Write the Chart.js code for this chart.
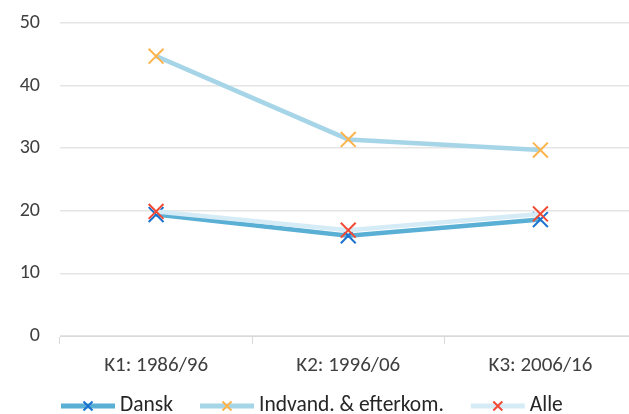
<!DOCTYPE html>
<html>
<head>
<meta charset="utf-8">
<script src="https://cdn.jsdelivr.net/npm/chart.js@4/dist/chart.umd.min.js"></script>
<style>
html,body{margin:0;padding:0;background:#fff;overflow:hidden;}
#wrap{position:relative;width:649px;height:414px;}
</style>
</head>
<body>
<div id="wrap"><canvas id="c"></canvas></div>
<script>
const categories = ["K1: 1986/96", "K2: 1996/06", "K3: 2006/16"];
const dansk = [19.4, 16.0, 18.6];
const indvand = [44.7, 31.4, 29.7];
const alle = [19.9, 16.9, 19.5];
const seriesNames = ["Dansk", "Indvand. & efterkom.", "Alle"];
const yTicks = [0, 10, 20, 30, 40, 50];

const FONT = "Carlito, Lato, 'Liberation Sans', sans-serif";

const customLegend = {
  id: 'customLegend',
  afterDraw(chart) {
    const ctx = chart.ctx;
    let x = 61;
    const y = 406;
    const bw = 54;
    ctx.save();
    ctx.font = "21.5px " + FONT;
    ctx.textBaseline = 'middle';
    chart.data.datasets.forEach((ds) => {
      ctx.fillStyle = ds.borderColor;
      ctx.fillRect(x, y - 2.5, bw, 5);
      const cx = x + bw / 2, r = 4.5;
      ctx.strokeStyle = ds.pointBorderColor;
      ctx.lineWidth = 2;
      ctx.beginPath();
      ctx.moveTo(cx - r, y - r); ctx.lineTo(cx + r, y + r);
      ctx.moveTo(cx - r, y + r); ctx.lineTo(cx + r, y - r);
      ctx.stroke();
      ctx.fillStyle = '#262626';
      const tx = x + bw + 5;
      ctx.fillText(ds.label, tx, y);
      x = tx + ctx.measureText(ds.label).width + 27;
    });
    ctx.restore();
  }
};

new Chart(document.getElementById('c'), {
  type: 'line',
  data: {
    labels: categories,
    datasets: [
      {label: seriesNames[0], data: dansk, borderColor: '#5AAFD5', backgroundColor: '#5AAFD5', borderWidth: 4.5,
       pointStyle: 'crossRot', pointRadius: 10.5, pointBorderColor: '#1A72CF', pointBorderWidth: 2, pointHoverRadius: 10.5, order: 1},
      {label: seriesNames[1], data: indvand, borderColor: '#A6D5E8', backgroundColor: '#A6D5E8', borderWidth: 4.5,
       pointStyle: 'crossRot', pointRadius: 10.5, pointBorderColor: '#FDB44B', pointBorderWidth: 2, pointHoverRadius: 10.5, order: 2},
      {label: seriesNames[2], data: alle, borderColor: '#D5EBF5', backgroundColor: '#D5EBF5', borderWidth: 4.5,
       pointStyle: 'crossRot', pointRadius: 10.5, pointBorderColor: '#F24A35', pointBorderWidth: 2, pointHoverRadius: 10.5, order: 0}
    ]
  },
  options: {
    responsive: true,
    maintainAspectRatio: false,
    animation: false,
    layout: {padding: {left: 0, right: 0, top: 23, bottom: 20}},
    plugins: {
      tooltip: {enabled: false},
      legend: {display: false}
    },
    scales: {
      x: {
        offset: true,
        afterFit(axis) { axis.height = 58; axis.paddingLeft = 0; axis.paddingRight = 0; },
        grid: {display: true, drawOnChartArea: false, drawTicks: true, tickLength: 8, color: '#D9D9D9', offset: true},
        border: {display: true, color: '#D9D9D9'},
        ticks: {font: {family: FONT, size: 21}, color: '#404040', padding: 9, maxRotation: 0}
      },
      y: {
        min: 0, max: 50,
        afterBuildTicks(axis) { axis.ticks = yTicks.map(v => ({value: v})); },
        afterFit(axis) { axis.width = 60; axis.paddingTop = 0; axis.paddingBottom = 0; },
        grid: {color: '#E5E5E5', drawTicks: false, lineWidth: 1.5},
        border: {display: false},
        ticks: {font: {family: FONT, size: 20}, color: '#404040', padding: 20}
      }
    }
  },
  plugins: [customLegend]
});
</script>
</body>
</html>
